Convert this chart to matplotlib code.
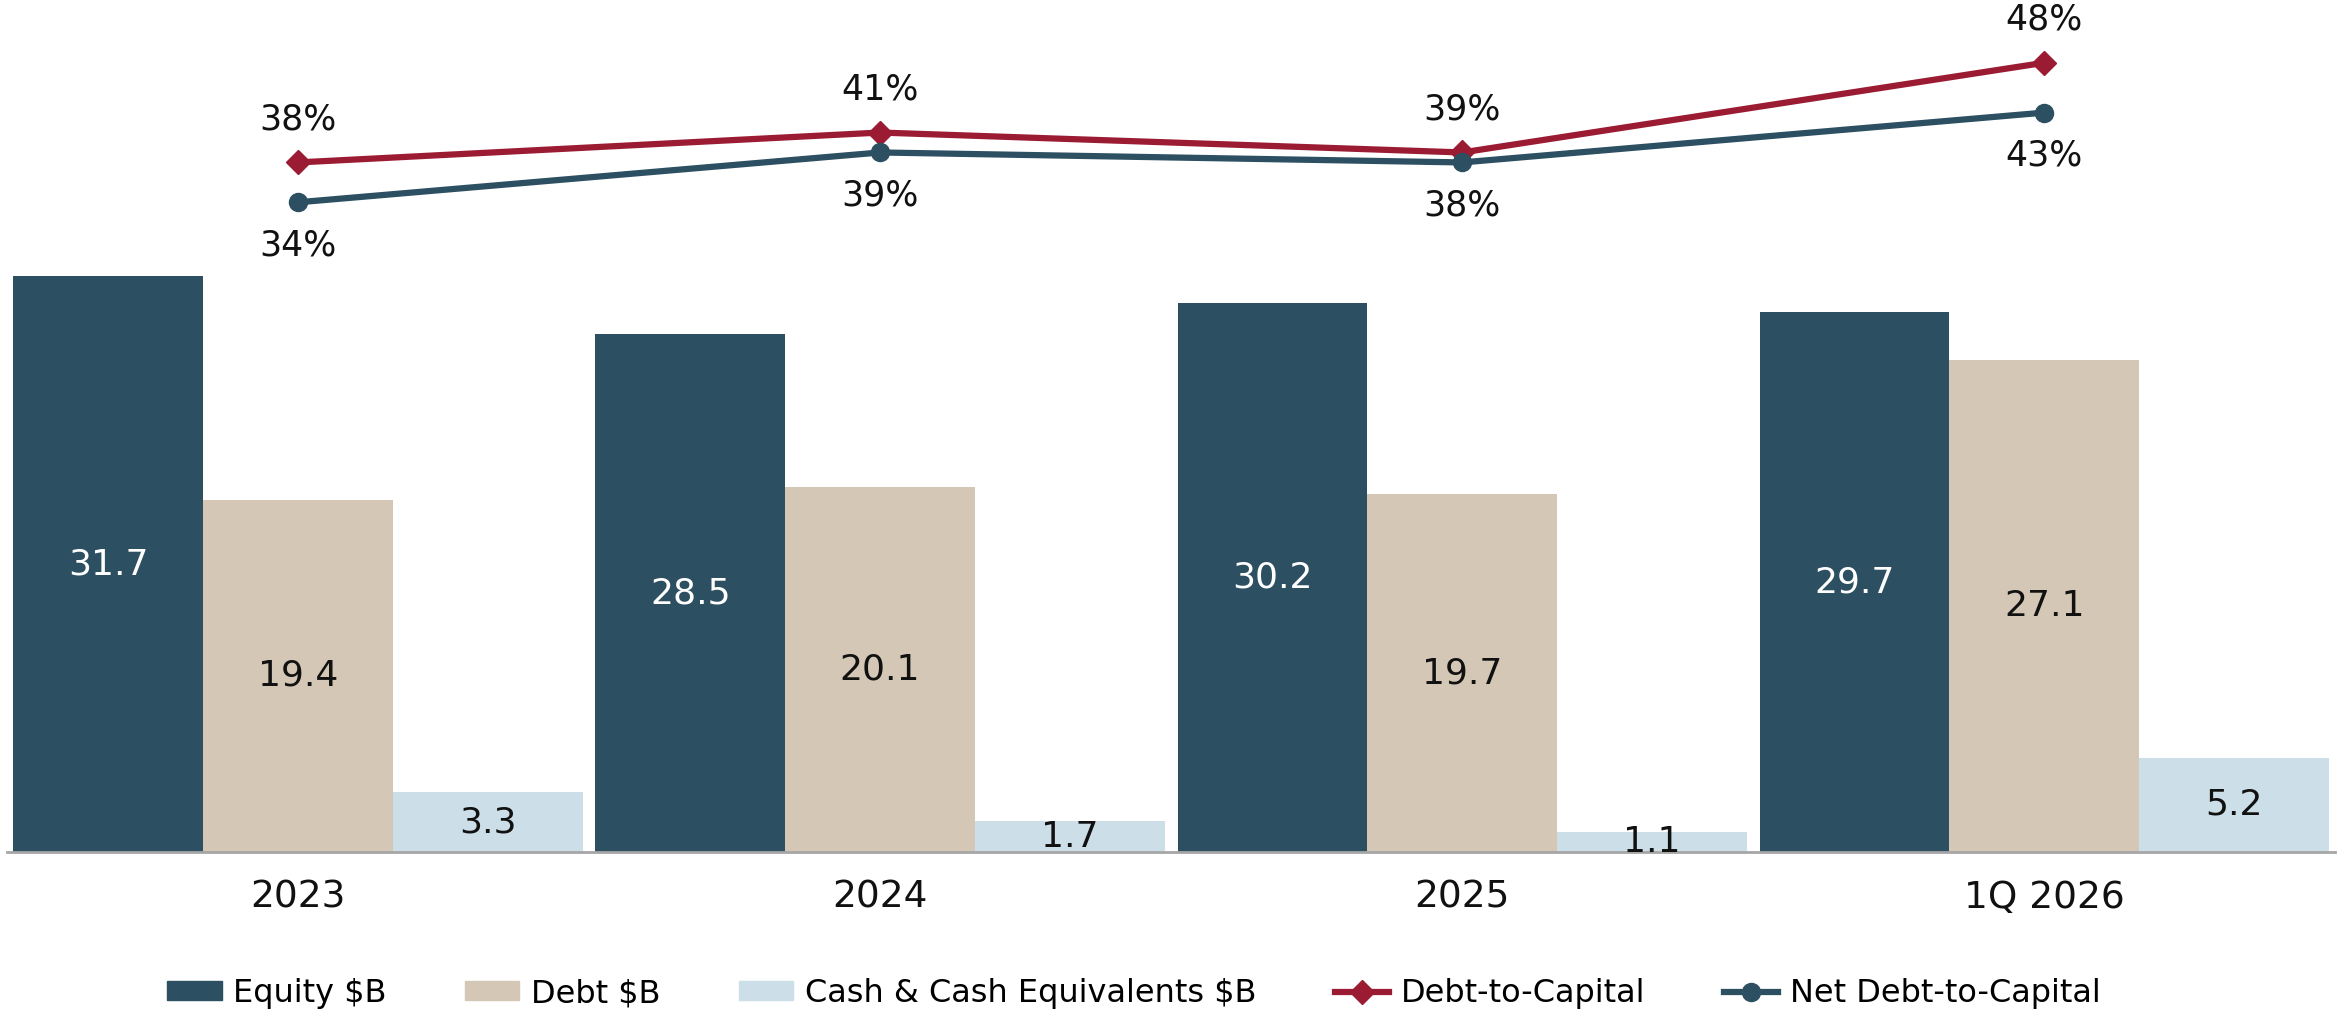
import matplotlib
matplotlib.use("Agg")
import matplotlib.pyplot as plt
import numpy as np
from matplotlib.lines import Line2D
from matplotlib.patches import Patch

categories = ["2023", "2024", "2025", "1Q 2026"]
equity = [31.7, 28.5, 30.2, 29.7]
debt = [19.4, 20.1, 19.7, 27.1]
cash = [3.3, 1.7, 1.1, 5.2]
debt_to_cap = [38, 41, 39, 48]
net_debt_to_cap = [34, 39, 38, 43]

C_EQ = "#2D4F62"
C_DEBT = "#D5C7B5"
C_CASH = "#CCDFE8"
C_RED = "#9B1B33"
C_NET = "#2D4F62"

plt.rcParams['font.family'] = ['DejaVu Sans']

fig = plt.figure(figsize=(23.43, 10.16), dpi=100)
ax = fig.add_axes([0.003, 0.1614, 0.9937, 0.8386])

x = np.arange(len(categories))
w = 0.326
b1 = ax.bar(x - w, equity, w, color=C_EQ, zorder=2)
b2 = ax.bar(x, debt, w, color=C_DEBT, zorder=2)
b3 = ax.bar(x + w, cash, w, color=C_CASH, zorder=2)

for bars, vals, col in [(b1, equity, "white"), (b2, debt, "#111111"), (b3, cash, "#111111")]:
    for r, v in zip(bars, vals):
        ax.text(r.get_x() + r.get_width() / 2, v / 2, f"{v:.1f}", ha="center", va="center",
                fontsize=26, color=col, zorder=5)

ax.set_xlim(-0.5, 3.5)
ax.set_ylim(0, 46.9)
ax.set_yticks([])
ax.set_xticks(x)
ax.set_xticklabels(categories, fontsize=27, color="#111111")
ax.tick_params(axis="x", length=0, pad=20)
for s in ["top", "right", "left"]:
    ax.spines[s].set_visible(False)
ax.spines["bottom"].set_color("#A6A6A6")
ax.spines["bottom"].set_linewidth(2)

ax2 = ax.twinx()
ax2.set_ylim(-31.2, 54.3)
ax2.set_yticks([])
for s in ax2.spines.values():
    s.set_visible(False)
ax2.patch.set_visible(False)

ax2.plot(x, debt_to_cap, color=C_RED, lw=4.5, marker="D", ms=12, zorder=4)
ax2.plot(x, net_debt_to_cap, color=C_NET, lw=4.5, marker="o", ms=13, zorder=4)
for xi, v in zip(x, debt_to_cap):
    ax2.annotate(f"{v}%", (xi, v), xytext=(0, 31), textcoords="offset points",
                 ha="center", va="center", fontsize=25, color="#111111")
for xi, v in zip(x, net_debt_to_cap):
    ax2.annotate(f"{v}%", (xi, v), xytext=(0, -31), textcoords="offset points",
                 ha="center", va="center", fontsize=25, color="#111111")

handles = [
    Patch(color=C_EQ, label="Equity $B"),
    Patch(color=C_DEBT, label="Debt $B"),
    Patch(color=C_CASH, label="Cash & Cash Equivalents $B"),
    Line2D([], [], color=C_RED, lw=4.5, marker="D", ms=12, label="Debt-to-Capital"),
    Line2D([], [], color=C_NET, lw=4.5, marker="o", ms=13, label="Net Debt-to-Capital"),
]
fig.legend(handles=handles, loc="center", bbox_to_anchor=(0.484, 0.022), ncol=5,
           frameon=False, fontsize=23, handlelength=1.7, handleheight=0.55,
           handletextpad=0.37, columnspacing=2.45)

fig.savefig("out.png", dpi=100)
